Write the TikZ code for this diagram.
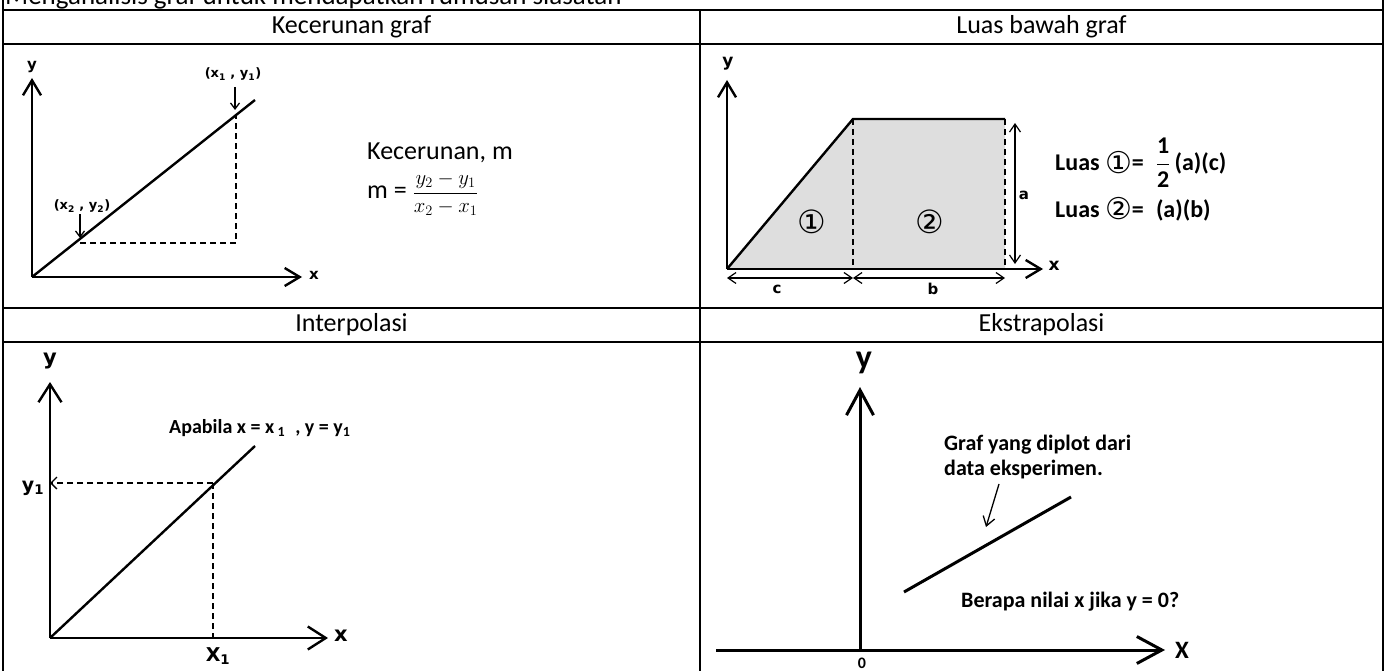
\documentclass[tikz,border=0pt]{standalone}
\usepackage{fontspec}
\setmainfont{Carlito}
\newfontfamily\verd{DejaVu Sans}
\usetikzlibrary{arrows.meta}

\tikzset{
  grid/.style={line width=2pt},
  head/.style={font=\fontsize{26}{30}\selectfont, inner sep=0pt},
  axis/.style={line width=2.4pt, -{Straight Barb[length=15pt,width=18pt,line width=2.4pt]}},
  bigaxis/.style={line width=3pt, -{Straight Barb[length=25pt,width=27pt,line width=3pt]}},
  curve/.style={line width=2.4pt},
  guide/.style={line width=1.3pt, dash pattern=on 6pt off 4pt},
  pointer/.style={line width=1.3pt, -{Straight Barb[length=6pt,width=9pt,line width=1.3pt]}},
  span/.style={line width=1.2pt, {Straight Barb[length=8pt,width=11pt,line width=1.2pt]}-{Straight Barb[length=8pt,width=11pt,line width=1.2pt]}},
  lbl/.style={font=\verd\bfseries\fontsize{#1}{#1}\selectfont, inner sep=0pt},
  lbl/.default=13,
  note/.style={font=\bfseries\fontsize{#1}{25}\selectfont, align=left, inner sep=0pt},
  note/.default=22,
  bodytext/.style={font=\fontsize{26}{30}\selectfont, inner sep=0pt},
  bulat/.style={font=\verd\fontsize{32}{32}\selectfont, inner sep=0pt},
}
\newcommand{\bul}[1]{{\verd\mdseries\fontsize{30}{30}\selectfont\raisebox{-0.08em}{#1}}}

\begin{document}
\begin{tikzpicture}[x=1pt,y=-1pt]
  \useasboundingbox (0,0) rectangle (1394,671);
  % Jadual
  \draw[grid] (3,-2) -- (3,673);
  \draw[grid] (700,10) -- (700,673);
  \draw[grid] (1383,-2) -- (1383,673);
  \foreach \yy in {10,44,308,342}
    \draw[grid] (3,\yy) -- (1383,\yy);
  \node[head, font=\fontsize{27}{30}\selectfont, anchor=base west] (tajuk) at (5,5) {Menganalisis graf untuk mendapatkan rumusan siasatan};
  \node[head] (h1) at (351.5,27) {Kecerunan graf};
  \node[head] (h2) at (1041.5,27) {Luas bawah graf};
  \node[head] (h3) at (351.5,325) {Interpolasi};
  \node[head] (h4) at (1041.5,325) {Ekstrapolasi};

  % Kecerunan graf
  \coordinate (o1) at (32,277);
  \coordinate (ya1) at (32,78);
  \coordinate (xa1) at (302,277);
  \coordinate (e1) at (255,100);
  \coordinate (p1) at (236,115);
  \coordinate (p2) at (80,243);
  \coordinate (k1) at (236,243);
  \draw[axis] (o1) -- (ya1);
  \draw[axis] (o1) -- (xa1);
  \draw[curve] (o1) -- (e1);
  \draw[guide] (p2) -- (k1) -- (p1);
  \node[lbl=15] (ly1) at (32,67) {y};
  \node[lbl=15] (lx1) at (314,275) {x};
  \node[lbl] (lp1) at (233,74) {(x\textsubscript{1} , y\textsubscript{1})};
  \node[lbl] (lp2) at (82,206) {(x\textsubscript{2} , y\textsubscript{2})};
  \coordinate (t1) at (235,87);
  \coordinate (t1b) at (235,110);
  \coordinate (t2) at (80,214);
  \coordinate (t2b) at (80,238);
  \draw[pointer] (t1) -- (t1b);
  \draw[pointer] (t2) -- (t2b);
  \node[bodytext, anchor=west] (kec) at (367,153) {Kecerunan, m};
  \node[bodytext, anchor=west] (rum) at (367,194) {m = {\fontsize{21}{21}\selectfont$\displaystyle\frac{y_2-y_1}{x_2-x_1}$}};

  % Luas bawah graf
  \coordinate (o2) at (727,269);
  \coordinate (ya2) at (727,80);
  \coordinate (xa2) at (1043,269);
  \coordinate (a2) at (853,119);
  \coordinate (b2) at (1005,119);
  \coordinate (a2b) at (853,269);
  \coordinate (b2b) at (1005,269);
  \fill[black!13] (o2) -- (a2) -- (b2) -- (b2b) -- cycle;
  \draw[guide] (a2) -- (a2b);
  \draw[guide] (b2) -- (b2b);
  \draw[axis] (o2) -- (ya2);
  \draw[axis] (o2) -- (xa2);
  \draw[curve] (o2) -- (a2) -- (b2);
  \coordinate (sa1) at (1015,123);
  \coordinate (sa2) at (1015,264);
  \draw[span] (sa1) -- (sa2);
  \coordinate (sc1) at (727,278);
  \coordinate (sc2) at (853,278);
  \coordinate (sb2) at (1005,278);
  \draw[span] (sc1) -- (sc2);
  \draw[span] (sc2) -- (sb2);
  \node[lbl=17] (ly2) at (728,64) {y};
  \node[lbl=17] (lx2) at (1054,266) {x};
  \node[lbl=15] (la) at (1024,195) {a};
  \node[lbl=15] (lc) at (777,289) {c};
  \node[lbl=15] (lb) at (933,289) {b};
  \node[bulat] (n1) at (812,222) {①};
  \node[bulat] (n2) at (930,222) {②};
  \node[note=24, anchor=west] (luas1) at (1055,163)
    {Luas \bul{①}= \;$\displaystyle\frac{\textbf{1}}{\textbf{2}}$\,(a)(c)};
  \node[note=24, anchor=west] (luas2) at (1055,209)
    {Luas \bul{②}= \;(a)(b)};

  % Interpolasi
  \coordinate (o3) at (50,638);
  \coordinate (ya3) at (50,382);
  \coordinate (xa3) at (328,638);
  \coordinate (e3) at (255,446);
  \coordinate (p3) at (213,483);
  \coordinate (py3) at (50,483);
  \coordinate (px3) at (213,638);
  \draw[axis, -{Straight Barb[length=18pt,width=23pt,line width=2.4pt]}] (o3) -- (ya3);
  \draw[axis, -{Straight Barb[length=18pt,width=23pt,line width=2.4pt]}] (o3) -- (xa3);
  \draw[curve] (o3) -- (e3);
  \draw[guide, -{Straight Barb[length=6pt,width=12pt,line width=1.3pt]}] (p3) -- (py3);
  \draw[guide] (p3) -- (px3);
  \node[lbl=21] (ly3) at (50,361) {y};
  \node[lbl=21] (lx3) at (341,636) {x};
  \node[lbl=19] (lyy) at (33,488) {y\textsubscript{1}};
  \node[lbl=19] (lxx) at (218,656) {X\textsubscript{1}};
  \node[note=20, anchor=west] (apa) at (169,428) {Apabila x = x\,\textsubscript{1}\; , y = y\textsubscript{1}};

  % Ekstrapolasi
  \coordinate (o4) at (860,650);
  \coordinate (ya4) at (860,387);
  \coordinate (xl4) at (716,650);
  \coordinate (xa4) at (1165,650);
  \coordinate (d1) at (904,592);
  \coordinate (d2) at (1071,497);
  \draw[bigaxis] (o4) -- (ya4);
  \draw[bigaxis] (xl4) -- (xa4);
  \draw[line width=3pt] (d1) -- (d2);
  \node[font=\bfseries\fontsize{34}{34}\selectfont, inner sep=0pt] (ly4) at (864,363) {y};
  \node[font=\bfseries\fontsize{25}{25}\selectfont, inner sep=0pt] (lx4) at (1182,650) {X};
  \node[font=\bfseries\fontsize{16}{16}\selectfont, inner sep=0pt] (l0) at (862,663) {0};
  \node[note, anchor=west] (graf) at (944,457) {Graf yang diplot dari\\data eksperimen.};
  \coordinate (g1) at (999,484);
  \coordinate (g2) at (986,527);
  \draw[pointer, -{Straight Barb[length=9pt,width=12pt,line width=1.3pt]}] (g1) -- (g2);
  \node[note, anchor=west] (soal) at (961,602) {Berapa nilai x jika y = 0?};
\end{tikzpicture}
\end{document}
